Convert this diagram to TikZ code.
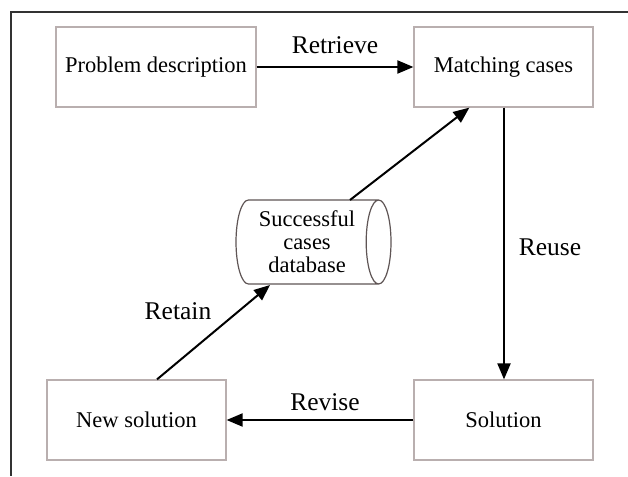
\documentclass[tikz,border=0pt]{standalone}
\usepackage{fontspec}
\setmainfont{Liberation Serif}
\usetikzlibrary{shapes.geometric,arrows.meta,calc}
\definecolor{boxgray}{RGB}{185,175,175}
\definecolor{framegray}{RGB}{50,50,50}
\definecolor{cylgray}{RGB}{95,85,85}
\begin{document}
\begin{tikzpicture}[x=1pt,y=-1pt,
  every node/.style={font=\fontsize{22.5}{23}\selectfont},
  stepbox/.style={draw=boxgray,line width=1.2pt,minimum height=80pt,inner sep=0pt,fill=white},
  flow/.style={line width=2pt,-{Triangle[length=16pt,width=13pt]}},
  lbl/.style={font=\fontsize{25.5}{28}\selectfont}]
\useasboundingbox[fill=white] (0,0) rectangle (628,476);
\draw[framegray,line width=1.3pt] (10,12) -- (628,12);
\draw[framegray,line width=1.3pt] (11,12) -- (11,476);

\node[stepbox,minimum width=200pt] (pd) at (156,67) {Problem description};
\node[stepbox,minimum width=179pt] (mc) at (503.5,67) {Matching cases};
\node[stepbox,minimum width=179pt] (sol) at (503.5,420) {Solution};
\node[stepbox,minimum width=179pt] (ns) at (136.5,420) {New solution};
\node[draw=cylgray,line width=1.2pt,shape=cylinder,aspect=0.4,
  minimum width=84pt,minimum height=155pt,inner sep=0pt,
  align=center,font=\fontsize{22.5}{23}\selectfont] (db) at (307,242)
  {Successful\\cases\\database};

\coordinate (mcs) at ($(mc.south)+(0.5,0)$);
\coordinate (soln) at ($(sol.north)+(0.5,0)$);
\coordinate (nsn) at ($(ns.north)+(20.5,0)$);
\coordinate (dbb) at (270,285);
\coordinate (dbt) at (350,200);
\coordinate (mcsw) at ($(mc.south west)+(56,0)$);

\draw[flow] (pd.east) -- (mc.west);
\draw[flow] (mcs) -- (soln);
\draw[flow] (sol.west) -- (ns.east);
\draw[flow] (nsn) -- (dbb);
\draw[flow] (dbt) -- (mcsw);

\node[lbl] (retrieve) at (335,45) {Retrieve};
\node[lbl] (reuse) at (550,247) {Reuse};
\node[lbl] (revise) at (325,402) {Revise};
\node[lbl] (retain) at (178,311) {Retain};
\end{tikzpicture}
\end{document}
